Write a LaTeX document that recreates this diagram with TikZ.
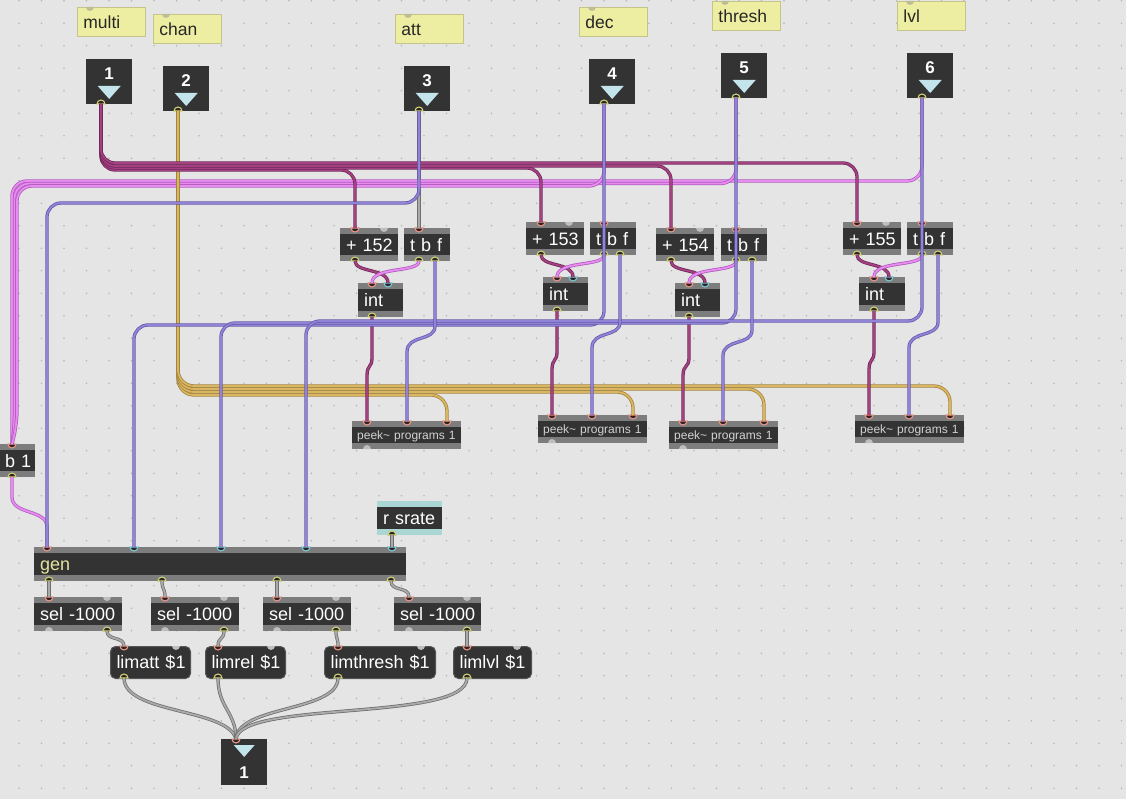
\documentclass[tikz,border=0pt]{standalone}
\usepackage{fontspec}
\setmainfont{Liberation Sans}
\definecolor{bg}{RGB}{229,229,229}
\definecolor{dotc}{RGB}{182,182,182}
\definecolor{objdark}{RGB}{51,51,51}
\definecolor{band}{RGB}{125,125,125}
\definecolor{cmtfill}{RGB}{238,238,162}
\definecolor{cmtdraw}{RGB}{196,196,140}
\definecolor{cmttab}{RGB}{190,190,150}
\definecolor{tric}{RGB}{194,228,234}
\definecolor{tealbg}{RGB}{170,214,212}
\definecolor{gentext}{RGB}{228,228,160}
\definecolor{peektext}{RGB}{210,210,210}
\definecolor{inC}{RGB}{232,150,135}
\definecolor{coldC}{RGB}{120,200,214}
\definecolor{outC}{RGB}{205,210,120}
\definecolor{offC}{RGB}{190,190,190}
\definecolor{portFill}{RGB}{45,35,35}
\definecolor{msgdraw}{RGB}{85,85,85}
\definecolor{magL}{RGB}{165,64,130}
\definecolor{magD}{RGB}{110,40,88}
\definecolor{pinkL}{RGB}{232,140,240}
\definecolor{pinkD}{RGB}{175,90,190}
\definecolor{purL}{RGB}{145,132,214}
\definecolor{purD}{RGB}{100,88,170}
\definecolor{goldL}{RGB}{218,182,96}
\definecolor{goldD}{RGB}{160,130,60}
\definecolor{grayL}{RGB}{170,170,170}
\definecolor{grayD}{RGB}{110,110,110}
\newcommand\pti[4]{\coordinate (#1) at (#2,#3);\filldraw[#4] (#2+4,#3) arc[start angle=0,end angle=180,radius=4] -- cycle;}
\newcommand\pto[4]{\coordinate (#1) at (#2,#3);\filldraw[#4] (#2+4,#3) arc[start angle=0,end angle=-180,radius=4] -- cycle;}
\newcommand\inletobj[4]{%
  \node[inletb] (#1) at (#2,#3) {};
  \node[innum] (#1n) at ([yshift=-14.5pt]#1.north) {#4};
  \fill[tric] ([xshift=-11.5pt,yshift=-27pt]#1.north) -- ([xshift=11.5pt,yshift=-27pt]#1.north) -- ([yshift=-40pt]#1.north) -- cycle;
  \pto{#1o}{#2+15}{#3+45}{portout}}
\begin{document}
\begin{tikzpicture}[x=1pt,y=-1pt,
  cord/.style={line width=0.75pt, double distance=1.8pt},
  magc/.style={cord, draw=magD, double=magL},
  pinkc/.style={cord, draw=pinkD, double=pinkL},
  purc/.style={cord, draw=purD, double=purL},
  goldc/.style={cord, draw=goldD, double=goldL},
  grayc/.style={cord, draw=grayD, double=grayL},
  portin/.style={draw=inC, fill=portFill, line width=1.1pt},
  portcold/.style={draw=coldC, fill=portFill, line width=1.1pt},
  portout/.style={draw=outC, fill=portFill, line width=1.1pt},
  portoff/.style={fill=offC, draw=none},
  cmtab/.style={fill=cmttab, draw=none},
  cmt/.style={anchor=north west, fill=cmtfill, draw=cmtdraw, line width=0.8pt, inner xsep=6pt, inner ysep=0pt, text width=56pt, minimum height=29pt, align=left, text=black!85, font=\fontsize{17.5}{18}\selectfont, text height=12.5pt, text depth=0pt},
  inletb/.style={anchor=north west, fill=objdark, minimum width=46pt, minimum height=45pt, inner sep=0pt},
  innum/.style={text=white, font=\bfseries\fontsize{17}{17}\selectfont, inner sep=0pt, text height=12.2pt, text depth=0pt},
  objbox/.style={anchor=north west, inner xsep=6pt, inner ysep=0pt, align=left, fill=objdark, text=white, font=\fontsize{18}{18}\selectfont, text height=12.9pt, text depth=0pt, minimum height=33pt,
    path picture={
      \fill[#1] (path picture bounding box.north west) rectangle ([yshift=-6pt]path picture bounding box.north east);
      \fill[#1] (path picture bounding box.south west) rectangle ([yshift=6pt]path picture bounding box.south east);}},
  objbox/.default=band,
  peekbox/.style={objbox, inner xsep=5pt, font=\fontsize{12}{12}\selectfont, text=peektext, text height=8.6pt, minimum height=28pt, text width=99pt},
  msg/.style={anchor=north west, inner xsep=6pt, inner ysep=0pt, align=left, fill=objdark, draw=msgdraw, line width=1pt, rounded corners=5pt, text=white, font=\fontsize{18}{18}\selectfont, text height=12.9pt, text depth=0pt, minimum height=32pt}
]
\useasboundingbox (0,0) rectangle (1126,799);
\clip (0,0) rectangle (1126,799);
\fill[bg] (0,0) rectangle (1126,799);
\foreach \i in {0,...,49} \foreach \j in {0,...,35} \fill[dotc] ({19+22.5*\i},{0.8+22.5*\j}) circle[radius=0.85];

% ---------- comments
\node[cmt] (cmulti) at (77,7) {\mbox{multi}};   \pti{cmultit}{90}{7}{cmtab}
\node[cmt] (cchan) at (153,14) {\mbox{chan}};   \pti{cchant}{166}{14}{cmtab}
\node[cmt] (catt) at (395,14) {\mbox{att}};     \pti{cattt}{408}{14}{cmtab}
\node[cmt] (cdec) at (579,7) {\mbox{dec}};      \pti{cdect}{592}{7}{cmtab}
\node[cmt] (cthresh) at (712,1) {\mbox{thresh}}; \pti{cthresht}{725}{1}{cmtab}
\node[cmt] (clvl) at (897,1) {\mbox{lvl}};      \pti{clvlt}{910}{1}{cmtab}

% ---------- inlets
\inletobj{in1}{86}{59}{1}
\inletobj{in2}{163}{66}{2}
\inletobj{in3}{404}{66}{3}
\inletobj{in4}{589}{59}{4}
\inletobj{in5}{721}{53}{5}
\inletobj{in6}{907}{53}{6}

% ---------- column 1
\node[objbox, text width=46pt] (a152) at (340,228) {\mbox{+ 152}};
\pti{a152i}{355}{228}{portin} \pti{a152g}{384}{228}{portoff} \pto{a152o}{355}{261}{portout}
\node[objbox, text width=34pt] (tbf1) at (404,228) {\mbox{t b f}};
\pti{tbf1i}{419}{228}{portin} \pto{tbf1b}{419}{261}{portout} \pto{tbf1f}{435}{261}{portout}
\node[objbox, text width=33pt, minimum height=34pt] (int1) at (358,283) {\mbox{int}};
\pti{int1i}{372}{283}{portin} \pti{int1c}{388}{283}{portcold} \pto{int1o}{372}{317}{portout}
\node[peekbox] (peek1) at (352,421) {\mbox{peek\textasciitilde{} programs 1}};
\pti{peek1a}{367}{421}{portin} \pti{peek1b}{407}{421}{portin} \pti{peek1c}{447}{421}{portin} \pto{peek1g}{367}{449}{portoff}

% ---------- column 2
\node[objbox, text width=46pt] (a153) at (526,222) {\mbox{+ 153}};
\pti{a153i}{541}{222}{portin} \pti{a153g}{569}{222}{portoff} \pto{a153o}{541}{255}{portout}
\node[objbox, text width=34pt] (tbf2) at (590,222) {\mbox{t b f}};
\pti{tbf2i}{604}{222}{portin} \pto{tbf2b}{604}{255}{portout} \pto{tbf2f}{620}{255}{portout}
\node[objbox, text width=33pt, minimum height=34pt] (int2) at (543,277) {\mbox{int}};
\pti{int2i}{557}{277}{portin} \pti{int2c}{573}{277}{portcold} \pto{int2o}{557}{311}{portout}
\node[peekbox] (peek2) at (538,415) {\mbox{peek\textasciitilde{} programs 1}};
\pti{peek2a}{552}{415}{portin} \pti{peek2b}{592}{415}{portin} \pti{peek2c}{633}{415}{portin} \pto{peek2g}{552}{443}{portoff}

% ---------- column 3
\node[objbox, text width=46pt] (a154) at (656,228) {\mbox{+ 154}};
\pti{a154i}{671}{228}{portin} \pti{a154g}{700}{228}{portoff} \pto{a154o}{671}{261}{portout}
\node[objbox, text width=34pt] (tbf3) at (721,228) {\mbox{t b f}};
\pti{tbf3i}{736}{228}{portin} \pto{tbf3b}{736}{261}{portout} \pto{tbf3f}{752}{261}{portout}
\node[objbox, text width=33pt, minimum height=34pt] (int3) at (675,283) {\mbox{int}};
\pti{int3i}{689}{283}{portin} \pti{int3c}{705}{283}{portcold} \pto{int3o}{689}{317}{portout}
\node[peekbox] (peek3) at (669,421) {\mbox{peek\textasciitilde{} programs 1}};
\pti{peek3a}{683}{421}{portin} \pti{peek3b}{723}{421}{portin} \pti{peek3c}{764}{421}{portin} \pto{peek3g}{683}{449}{portoff}

% ---------- column 4
\node[objbox, text width=46pt] (a155) at (843,222) {\mbox{+ 155}};
\pti{a155i}{857}{222}{portin} \pti{a155g}{886}{222}{portoff} \pto{a155o}{857}{255}{portout}
\node[objbox, text width=34pt] (tbf4) at (907,222) {\mbox{t b f}};
\pti{tbf4i}{922}{222}{portin} \pto{tbf4b}{922}{255}{portout} \pto{tbf4f}{938}{255}{portout}
\node[objbox, text width=34pt, minimum height=34pt] (int4) at (859,277) {\mbox{int}};
\pti{int4i}{874}{277}{portin} \pti{int4c}{889}{277}{portcold} \pto{int4o}{874}{311}{portout}
\node[peekbox] (peek4) at (855,415) {\mbox{peek\textasciitilde{} programs 1}};
\pti{peek4a}{869}{415}{portin} \pti{peek4b}{909}{415}{portin} \pti{peek4c}{950}{415}{portin} \pto{peek4g}{869}{443}{portoff}

% ---------- b 1, r srate, gen
\node[objbox, text width=24pt] (b1) at (-1,444) {\mbox{b 1}};
\pti{b1i}{12}{444}{portin} \pto{b1o}{12}{477}{portout}
\node[objbox=tealbg, text width=53pt, minimum height=34pt] (rsr) at (377,501) {\mbox{r srate}};
\pto{rsro}{392}{535}{portout}
\node[objbox, text width=360pt, minimum height=34pt, text=gentext] (gen) at (34,547) {\mbox{gen}};
\pti{geni1}{47}{547}{portin} \pti{geni2}{134}{547}{portcold} \pti{geni3}{221}{547}{portcold}
\pti{geni4}{306}{547}{portcold} \pti{geni5}{392}{547}{portcold}
\pto{geno1}{49}{581}{portout} \pto{geno2}{162}{581}{portout} \pto{geno3}{277}{581}{portout} \pto{geno4}{391}{581}{portout}

% ---------- sel
\node[objbox, text width=76pt, minimum height=34pt] (sel1) at (34,597) {\mbox{sel -1000}};
\pti{sel1i}{49}{597}{portin} \pti{sel1g}{107}{597}{portoff} \pto{sel1h}{49}{631}{portoff} \pto{sel1o}{107}{631}{portout}
\node[objbox, text width=76pt, minimum height=34pt] (sel2) at (151,597) {\mbox{sel -1000}};
\pti{sel2i}{165}{597}{portin} \pti{sel2g}{224}{597}{portoff} \pto{sel2h}{165}{631}{portoff} \pto{sel2o}{224}{631}{portout}
\node[objbox, text width=76pt, minimum height=34pt] (sel3) at (263,597) {\mbox{sel -1000}};
\pti{sel3i}{277}{597}{portin} \pti{sel3g}{336}{597}{portoff} \pto{sel3h}{277}{631}{portoff} \pto{sel3o}{336}{631}{portout}
\node[objbox, text width=75pt, minimum height=34pt] (sel4) at (394,597) {\mbox{sel -1000}};
\pti{sel4i}{409}{597}{portin} \pti{sel4g}{467}{597}{portoff} \pto{sel4h}{409}{631}{portoff} \pto{sel4o}{467}{631}{portout}

% ---------- messages
\node[msg, text width=68pt] (limatt) at (110,646) {\mbox{limatt \$1}};
\pti{limatti}{124}{646}{portin} \pti{limattg}{176}{646}{portoff} \pto{limatto}{124}{678}{portout}
\node[msg, text width=68pt] (limrel) at (205,646) {\mbox{limrel \$1}};
\pti{limreli}{218}{646}{portin} \pti{limrelg}{271}{646}{portoff} \pto{limrelo}{218}{678}{portout}
\node[msg, text width=99pt] (limth) at (324,646) {\mbox{limthresh \$1}};
\pti{limthi}{338}{646}{portin} \pti{limthg}{421}{646}{portoff} \pto{limtho}{338}{678}{portout}
\node[msg, text width=66pt] (limlvl) at (453,646) {\mbox{limlvl \$1}};
\pti{limlvli}{467}{646}{portin} \pti{limlvlg}{517}{646}{portoff} \pto{limlvlo}{467}{678}{portout}

% ---------- outlet
\node[inletb, minimum height=46pt] (outb) at (221,739) {};
\fill[tric] ([xshift=-10.5pt,yshift=-6pt]outb.north) -- ([xshift=10.5pt,yshift=-6pt]outb.north) -- ([yshift=-18pt]outb.north) -- cycle;
\node[innum] (outn) at ([yshift=-33pt]outb.north) {1};
\pti{outi}{236}{739}{portin}

% =============== cords
% gray
\draw[grayc] (in3o) -- (tbf1i);
\draw[grayc] (rsro) -- (geni5);
\draw[grayc] (geno1) -- (sel1i);
\draw[grayc] (geno2) .. controls (162,590) and (165,588) .. (sel2i);
\draw[grayc] (geno3) -- (sel3i);
\draw[grayc] (geno4) .. controls (391,592) and (409,586) .. (sel4i);
\draw[grayc] (sel1o) .. controls (107,641) and (124,636) .. (limatti);
\draw[grayc] (sel2o) .. controls (224,640) and (218,637) .. (limreli);
\draw[grayc] (sel3o) .. controls (336,640) and (338,637) .. (limthi);
\draw[grayc] (sel4o) -- (limlvli);
\draw[grayc] (limatto) .. controls (124,714) and (228,708) .. (outi);
\draw[grayc] (limrelo) .. controls (218,708) and (236,712) .. (outi);
\draw[grayc] (limtho) .. controls (338,712) and (238,705) .. (outi);
\draw[grayc] (limlvlo) .. controls (467,722) and (240,700) .. (outi);

% pink
\draw[pinkc, rounded corners=15] (in6o) -- (922,181) -- (12,181) -- (b1i);
\draw[pinkc, rounded corners=15] (in5o) -- (736,183.5) -- (14.5,183.5) -- (14.5,428) -- (b1i);
\draw[pinkc, rounded corners=15] (in4o) -- (604,186) -- (17,186) -- (17,426) -- (b1i);
\draw[pinkc] (b1o) -- (12,497) .. controls (12,515) and (47,509) .. (47,527) -- (geni1);

% gold
\draw[goldc, rounded corners=16] (in2o) -- (178,395) -- (447,395) -- (peek1c);
\draw[goldc, rounded corners=16] (in2o) -- (178,392) -- (633,392) -- (peek2c);
\draw[goldc, rounded corners=16] (in2o) -- (178,389) -- (764,389) -- (peek3c);
\draw[goldc, rounded corners=16] (in2o) -- (178,386) -- (950,386) -- (peek4c);

% magenta
\draw[magc, rounded corners=14] (in1o) -- (101,170) -- (355,170) -- (a152i);
\draw[magc, rounded corners=14] (in1o) -- (101,168) -- (541,168) -- (a153i);
\draw[magc, rounded corners=14] (in1o) -- (101,166) -- (671,166) -- (a154i);
\draw[magc, rounded corners=14] (in1o) -- (101,163) -- (857,163) -- (a155i);
\draw[magc] (a152o) .. controls (355,273) and (388,268) .. (int1c);
\draw[magc] (a153o) .. controls (541,267) and (573,262) .. (int2c);
\draw[magc] (a154o) .. controls (671,273) and (705,268) .. (int3c);
\draw[magc] (a155o) .. controls (857,267) and (889,262) .. (int4c);
\draw[magc] (int1o) -- (372,358) .. controls (372,368) and (367,364) .. (367,376) -- (peek1a);
\draw[magc] (int2o) -- (557,352) .. controls (557,362) and (552,358) .. (552,370) -- (peek2a);
\draw[magc] (int3o) -- (689,358) .. controls (689,368) and (683,364) .. (683,376) -- (peek3a);
\draw[magc] (int4o) -- (874,352) .. controls (874,362) and (869,358) .. (869,370) -- (peek4a);

% pink bangs into int
\draw[pinkc] (tbf1b) .. controls (419,273) and (372,266) .. (int1i);
\draw[pinkc] (tbf2b) .. controls (604,267) and (557,260) .. (int2i);
\draw[pinkc] (tbf3b) .. controls (736,273) and (689,266) .. (int3i);
\draw[pinkc] (tbf4b) .. controls (922,267) and (874,260) .. (int4i);

% purple
\draw[purc, rounded corners=14] (in3o) -- (419,203) -- (47,203) -- (geni1);
\draw[purc, rounded corners=14] (in4o) -- (604,325) -- (134,325) -- (geni2);
\draw[purc, rounded corners=14] (in5o) -- (736,323) -- (221,323) -- (geni3);
\draw[purc, rounded corners=14] (in6o) -- (922,321) -- (306,321) -- (geni4);
\draw[purc] (tbf1f) -- (435,326) .. controls (435,342) and (407,334) .. (407,352) -- (peek1b);
\draw[purc] (tbf2f) -- (620,322) .. controls (620,338) and (592,330) .. (592,348) -- (peek2b);
\draw[purc] (tbf3f) -- (752,330) .. controls (752,346) and (723,338) .. (723,356) -- (peek3b);
\draw[purc] (tbf4f) -- (938,322) .. controls (938,338) and (909,330) .. (909,348) -- (peek4b);
\end{tikzpicture}
\end{document}
